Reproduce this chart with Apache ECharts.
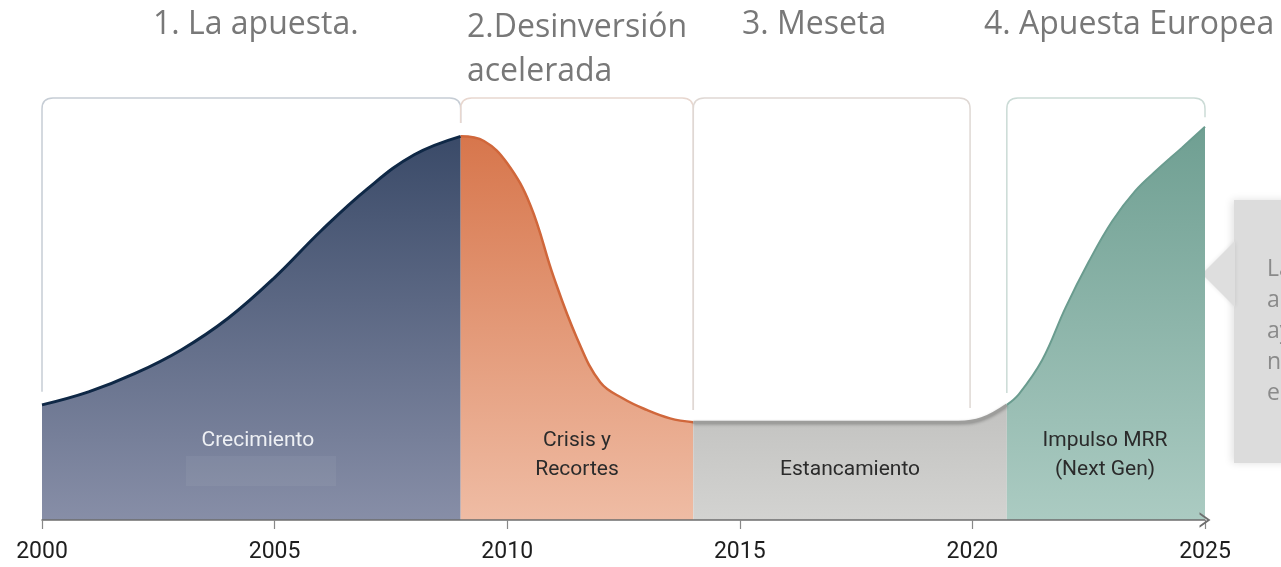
<!DOCTYPE html>
<html>
<head>
<meta charset="utf-8">
<title>Fases</title>
<script src="https://cdn.jsdelivr.net/npm/echarts@6.0.0/dist/echarts.min.js"></script>
<style>
  html, body { margin: 0; padding: 0; background: #fff; }
  #main { width: 1281px; height: 567px; }
</style>
</head>
<body>
<div id="main"></div>
<script>
// datos de cada fase: [año, valor]
var fase1 = [[2000, 30], [2001, 33.4], [2002, 38.2], [2003, 44.4], [2004, 52.6], [2005, 63.2], [2006, 75.4], [2007, 86.4], [2008, 95.2], [2009, 100]]
var fase2 = [[2009, 100], [2009.5, 98.8], [2010, 93], [2010.5, 82], [2011, 63.3], [2011.5, 47.4], [2012, 35.9], [2012.5, 31.6], [2013, 28.7], [2013.5, 26.5], [2014, 25.5]]
var fase3 = [[2014, 25.5], [2015.5, 25.5], [2017, 25.5], [2018.5, 25.5], [2019.7, 25.5], [2020.2, 26.4], [2020.74, 30]]
var fase4 = [[2020.74, 30], [2021, 32.8], [2021.5, 41.7], [2022, 55.3], [2022.5, 67.3], [2023, 77.8], [2023.5, 85.8], [2024, 91.6], [2024.5, 97], [2025, 102.5]]

var ejeTicks = [2000, 2005, 2010, 2015, 2020, 2025]

// corchetes de arriba
var corcheteInicio = [2000, 2009, 2014, 2020.74]
var corcheteFin = [2009, 2014, 2019.95, 2025]
var corcheteBajaIzq = [33.4, 103.5, 28.7, 33.1]
var corcheteBajaDer = [103.5, 28.7, 29.2, 105]

var titulos = ['1. La apuesta.', '2.Desinversión\nacelerada', '3. Meseta', '4. Apuesta Europea']

// etiquetas dentro de las áreas
var etiquetas = ['Crecimiento', 'Crisis y\nRecortes', 'Estancamiento', 'Impulso MRR\n(Next Gen)']
var etiquetaAnio = [2004.64, 2011.5, 2017.37, 2022.85]
var etiquetaValor = [20.6, 16.9, 13, 16.9]

var notaLineas = ['La', 'ac', 'ay', 'no', 'es']

window.onload = function () {
  var myChart = echarts.init(document.getElementById('main'))

  var coloresCorchete = ['#c6cdd5', '#e8d7cf', '#dfd8d4', '#cbdbd6']
  var coloresEtiqueta = ['#eef0f4', '#2b2b2b', '#2b2b2b', '#2b2b2b']
  var topeCorchete = 110

  function grad(a, b) {
    return new echarts.graphic.LinearGradient(0, 0, 0, 1, [
      { offset: 0, color: a },
      { offset: 1, color: b },
    ])
  }

  function serieFase(datos, linea, ancho, arriba, abajo, sombra) {
    return {
      type: 'line',
      data: datos,
      smooth: 0.4,
      showSymbol: false,
      silent: true,
      lineStyle: {
        color: linea,
        width: ancho,
        shadowBlur: sombra ? 3 : 0,
        shadowColor: 'rgba(0,0,0,0.25)',
        shadowOffsetY: sombra ? 1 : 0,
      },
      areaStyle: { color: grad(arriba, abajo), opacity: 1 },
      z: 2,
    }
  }

  var datosCorchete = corcheteInicio.map(function (v, i) {
    return [v, corcheteFin[i], corcheteBajaIzq[i], corcheteBajaDer[i]]
  })
  var datosEtiqueta = etiquetas.map(function (t, i) {
    return [etiquetaAnio[i], etiquetaValor[i], t]
  })

  var fuenteTitulo = { fill: '#787878', fontSize: 32, fontFamily: 'Open Sans' }

  var graficos = [
    // títulos de las fases
    { type: 'text', x: 153, y: 25, style: Object.assign({ text: titulos[0], verticalAlign: 'middle' }, fuenteTitulo) },
    { type: 'text', x: 467, y: 25, style: Object.assign({ text: titulos[1], verticalAlign: 'top', y: -19, lineHeight: 44 }, fuenteTitulo) },
    { type: 'text', x: 742, y: 25, style: Object.assign({ text: titulos[2], verticalAlign: 'middle' }, fuenteTitulo) },
    { type: 'text', x: 984, y: 25, style: Object.assign({ text: titulos[3], verticalAlign: 'middle' }, fuenteTitulo) },
    // rectángulo claro bajo "Crecimiento"
    { type: 'rect', shape: { x: 186, y: 456, width: 150, height: 30 }, style: { fill: 'rgba(255,255,255,0.05)' }, z: 5 },
    // nota a la derecha
    {
      type: 'group',
      z: 10,
      children: [
        { type: 'rect', shape: { x: 1234, y: 200, width: 60, height: 263 }, style: { fill: '#dcdcdc', shadowBlur: 8, shadowColor: 'rgba(0,0,0,0.12)', shadowOffsetX: -2 } },
        { type: 'polygon', shape: { points: [[1235, 241], [1202, 274], [1235, 307]] }, style: { fill: '#dedede', shadowBlur: 4, shadowColor: 'rgba(0,0,0,0.1)' } },
        { type: 'text', x: 1267, y: 269, style: { text: notaLineas.join('\n'), fill: '#8a8a8a', fontSize: 23, fontFamily: 'Open Sans', lineHeight: 31, verticalAlign: 'top', y: -15 } },
      ],
    },
  ]

  var option = {
    animation: false,
    backgroundColor: '#ffffff',
    grid: { left: 42, right: 76, top: 98, bottom: 47 },
    xAxis: {
      type: 'value',
      min: 2000,
      max: 2025,
      interval: 5,
      z: 5,
      splitLine: { show: false },
      axisLine: {
        lineStyle: { color: '#6e6e6e', width: 1.5 },
        symbol: ['none', 'path://M0 10L7 0L14 10L12 10L7 3L2 10Z'],
        symbolSize: [16, 11],
      },
      axisTick: { show: true, length: 9, lineStyle: { color: '#888', width: 1.2 } },
      axisLabel: {
        color: '#1e1e1e',
        fontSize: 23,
        fontFamily: 'Roboto',
        margin: 21,
        formatter: function (v) {
          return ejeTicks.indexOf(v) >= 0 ? String(v) : ''
        },
      },
    },
    yAxis: { type: 'value', min: 0, max: 110, show: false },
    series: [
      serieFase(fase1, '#0f2846', 3, '#3a4a68', '#878ea7', false),
      serieFase(fase2, '#d0673b', 2.5, '#d7764c', '#efbca4', false),
      serieFase(fase3, '#9d9d9b', 3, '#c2c2c0', '#d3d3d1', true),
      serieFase(fase4, '#6a9c8f', 2, '#6f9f92', '#abcbc2', false),
      {
        // corchetes de cada fase
        type: 'custom',
        data: datosCorchete,
        silent: true,
        clip: false,
        z: 1,
        renderItem: function (params, api) {
          var i = params.dataIndex
          var a = api.coord([api.value(0), topeCorchete])
          var b = api.coord([api.value(1), topeCorchete])
          var yl = api.coord([api.value(0), api.value(2)])[1]
          var yr = api.coord([api.value(1), api.value(3)])[1]
          var r = 11
          var d = 'M' + a[0] + ' ' + yl +
            ' L' + a[0] + ' ' + (a[1] + r) +
            ' Q' + a[0] + ' ' + a[1] + ' ' + (a[0] + r) + ' ' + a[1] +
            ' L' + (b[0] - r) + ' ' + b[1] +
            ' Q' + b[0] + ' ' + b[1] + ' ' + b[0] + ' ' + (b[1] + r) +
            ' L' + b[0] + ' ' + yr
          return {
            type: 'path',
            shape: { pathData: d },
            style: { stroke: coloresCorchete[i], fill: 'none', lineWidth: 1.5 },
          }
        },
      },
      {
        // textos de las áreas
        type: 'custom',
        data: datosEtiqueta,
        silent: true,
        clip: false,
        z: 6,
        renderItem: function (params, api) {
          var i = params.dataIndex
          var p = api.coord([api.value(0), api.value(1)])
          return {
            type: 'text',
            x: p[0],
            y: p[1],
            style: {
              text: etiquetas[i],
              fill: coloresEtiqueta[i],
              fontSize: 21,
              fontFamily: 'Roboto',
              align: 'center',
              verticalAlign: 'middle',
              lineHeight: 29,
            },
          }
        },
      },
    ],
    graphic: graficos,
  }

  myChart.setOption(option)
}
</script>
</body>
</html>
